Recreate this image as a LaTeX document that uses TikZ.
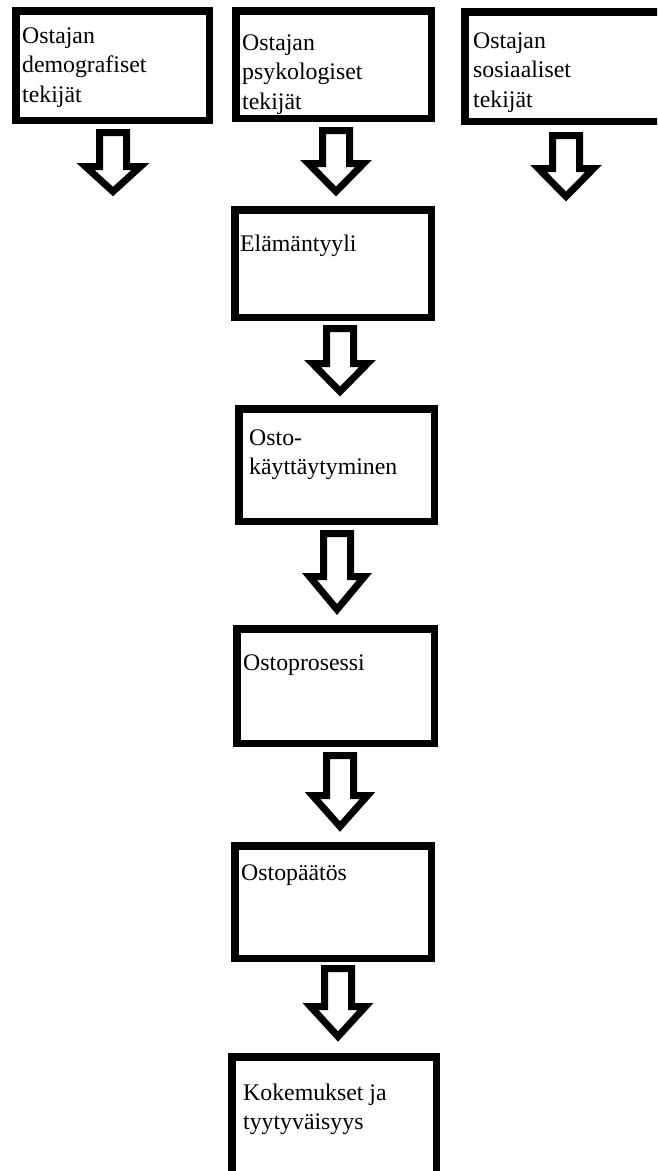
\documentclass[tikz,border=0pt]{standalone}
\usepackage{fontspec}
\setmainfont{Liberation Serif}
\usetikzlibrary{calc}

\tikzset{
  frame/.style={draw=black, line width=7.5pt, fill=white, rectangle, inner sep=0pt},
  caption/.style={anchor=north west, inner sep=0pt, align=left,
                  font=\fontsize{23.8}{29.5}\selectfont},
  hollowarrow/.style={draw=black, line width=7pt, fill=white, line join=miter},
}

% first-line strut: the caption's north edge sits 20pt above its first baseline
\newcommand\firstline{\rule{0pt}{20pt}}

% hollow block arrow: centre x, shaft top, head top, tip (outer edges)
\newcommand\hollowdown[4]{%
  \draw[hollowarrow]
    (#1-13.5,#2+3.5) -- (#1+13.5,#2+3.5) -- (#1+13.5,#3+3.5) -- (#1+27.5,#3+3.5)
    -- (#1,#4-5.5) -- (#1-27.5,#3+3.5) -- (#1-13.5,#3+3.5) -- cycle;}

\begin{document}
\begin{tikzpicture}[x=1pt, y=-1pt]
  \useasboundingbox (0,0) rectangle (657,1171);
  \clip (0,0) rectangle (657,1171);

  % top row of factors
  \node[frame, minimum width=193.5pt, minimum height=109.5pt] (demo) at (112.5,65.5) {};
  \node[frame, minimum width=195.5pt, minimum height=107.5pt] (psyk) at (333.5,64.5) {};
  \node[frame, minimum width=231.5pt, minimum height=109.5pt] (sos)  at (580.5,66.5) {};

  % main chain
  \node[frame, minimum width=196.5pt, minimum height=107.5pt] (elama)   at (333,263.5) {};
  \node[frame, minimum width=195.5pt, minimum height=112.5pt] (kaytt)   at (336.5,465) {};
  \node[frame, minimum width=197.5pt, minimum height=114.5pt] (prosessi) at (335.5,686) {};
  \node[frame, minimum width=196.5pt, minimum height=112.5pt] (paatos)  at (333,902) {};
  \node[frame, minimum width=204.5pt, minimum height=139.5pt] (kokem)   at (334,1126.5) {};

  % captions
  \node[caption] (tdemo) at (22,23)  {\firstline Ostajan\\demografiset\\tekijät};
  \node[caption] (tpsyk) at (242,30) {\firstline Ostajan\\psykologiset\\tekijät};
  \node[caption] (tsos)  at (473,28) {\firstline Ostajan\\sosiaaliset\\tekijät};
  \node[caption] (telama) at (240,231) {\firstline Elämäntyyli};
  \node[caption] (tkaytt) at (249,425) {\firstline Osto-\\käyttäytyminen};
  \node[caption] (tprosessi) at (243,650) {\firstline Ostoprosessi};
  \node[caption] (tpaatos) at (241,860) {\firstline Ostopäätös};
  \node[caption] (tkokem) at (243,1080) {\firstline Kokemukset ja\\tyytyväisyys};

  % hollow arrows
  \hollowdown{113}{129}{163}{197}
  \hollowdown{336}{127}{160}{197}
  \hollowdown{566}{132}{165}{202}
  \hollowdown{340}{325}{360}{397}
  \hollowdown{337}{530}{573}{615}
  \hollowdown{340}{752}{792}{832}
  \hollowdown{338}{965}{1003}{1042}
\end{tikzpicture}
\end{document}
